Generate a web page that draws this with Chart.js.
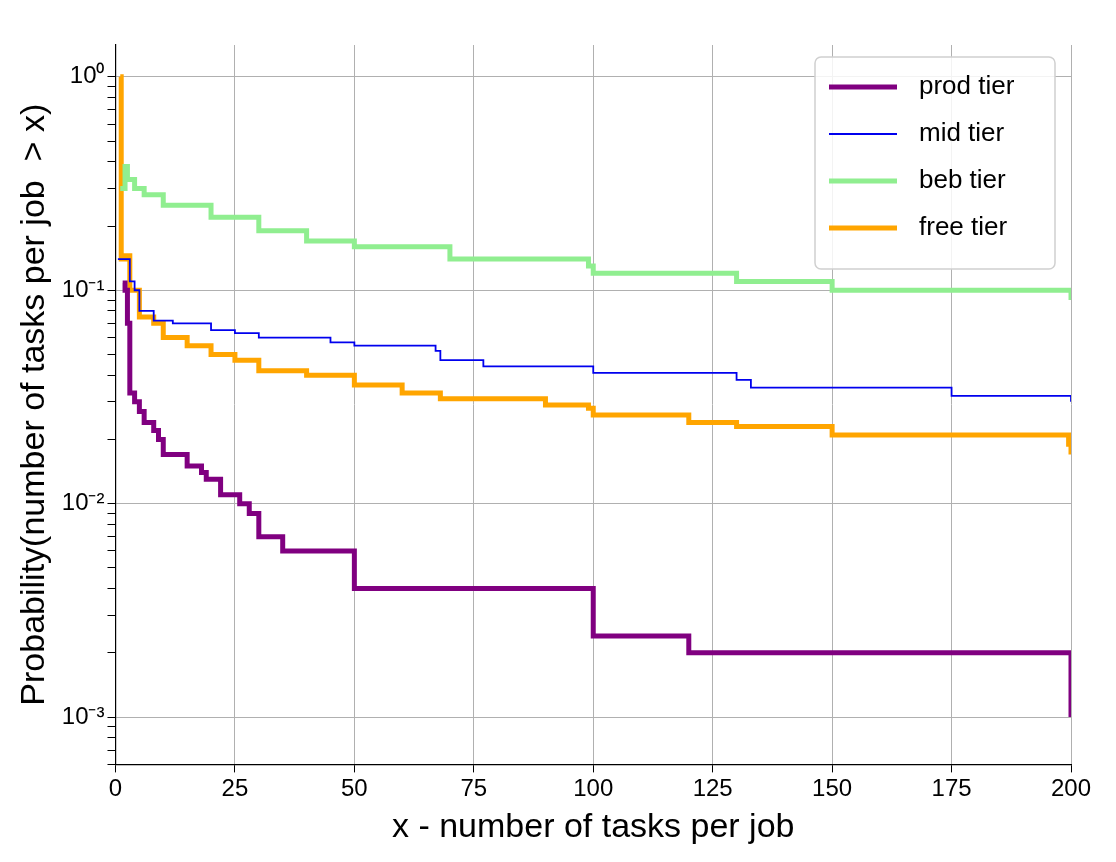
<!DOCTYPE html>
<html>
<head>
<meta charset="utf-8">
<script src="https://cdn.jsdelivr.net/npm/chart.js@4"></script>
<style>
  body { margin: 0; background: #fff; }
</style>
</head>
<body>
<canvas id="grafico" width="1116" height="862"></canvas>
<script>
const seriesNames = ['prod tier', 'mid tier', 'beb tier', 'free tier'];
const seriesColors = ['#800080', '#0000ee', '#90ee90', '#ffa500'];
const seriesWidths = [5, 1.8, 5, 5];

const prodX = [1.5, 2, 2.5, 3, 4, 5, 6, 8, 9, 10, 15, 18, 19, 22, 26, 28, 30, 35, 50, 100, 120, 200];
const prodY = [0.108, 0.1, 0.07, 0.033, 0.03, 0.027, 0.024, 0.022, 0.02, 0.017, 0.015, 0.014, 0.013, 0.011, 0.01, 0.009, 0.007, 0.006, 0.004, 0.0024, 0.002, 0.001];

const midX = [0.5, 3, 4, 5, 8, 12, 20, 25, 30, 45, 50, 67, 68, 77, 100, 130, 133, 175, 200];
const midY = [0.14, 0.11, 0.1, 0.08, 0.072, 0.07, 0.065, 0.063, 0.06, 0.057, 0.055, 0.052, 0.047, 0.044, 0.041, 0.038, 0.035, 0.032, 0.03];

const bebX = [1, 2, 2.5, 4, 6, 10, 20, 30, 40, 50, 70, 99, 100, 130, 150, 200];
const bebY = [0.3, 0.38, 0.33, 0.3, 0.28, 0.25, 0.22, 0.19, 0.17, 0.16, 0.14, 0.13, 0.12, 0.11, 0.1, 0.09];

const freeX = [1, 1.2, 2, 3, 5, 8, 10, 15, 20, 25, 30, 40, 50, 60, 68, 90, 99, 100, 120, 130, 150, 199.5, 200];
const freeY = [1.0, 0.14, 0.145, 0.1, 0.075, 0.07, 0.06, 0.055, 0.05, 0.047, 0.042, 0.04, 0.036, 0.033, 0.031, 0.029, 0.028, 0.026, 0.024, 0.023, 0.021, 0.019, 0.017];

const allX = [prodX, midX, bebX, freeX];
const allY = [prodY, midY, bebY, freeY];

const supers = { '0': '⁰', '1': '¹', '2': '²', '3': '³', '-': '⁻' };
function potencia(v) {
    const e = Math.round(Math.log10(v));
    if (Math.abs(Math.log10(v) - e) > 1e-6) return '';
    return '10' + String(e).split('').map(c => supers[c]).join('');
}
function ehMajor(v) {
    const l = Math.log10(v);
    return Math.abs(l - Math.round(l)) < 1e-6;
}

// legenda desenhada dentro da área do gráfico, com moldura
const legendaInterna = {
    id: 'legendaInterna',
    afterDraw(chart) {
        const ctx = chart.ctx;
        const a = chart.chartArea;
        const w = 240, h = 212, x0 = a.right - w - 16, y0 = a.top + 12;
        ctx.save();
        ctx.fillStyle = 'rgba(255,255,255,0.85)';
        ctx.strokeStyle = '#d0d0d0';
        ctx.lineWidth = 1.5;
        ctx.beginPath();
        ctx.roundRect(x0, y0, w, h, 6);
        ctx.fill();
        ctx.stroke();
        ctx.font = '26px "Liberation Sans", Arial, sans-serif';
        ctx.textBaseline = 'middle';
        chart.data.datasets.forEach((ds, i) => {
            const y = y0 + 30 + i * 47;
            ctx.strokeStyle = ds.borderColor;
            ctx.lineWidth = ds.borderWidth;
            ctx.beginPath();
            ctx.moveTo(x0 + 14, y);
            ctx.lineTo(x0 + 82, y);
            ctx.stroke();
            ctx.fillStyle = '#000';
            ctx.fillText(ds.label, x0 + 104, y);
        });
        ctx.restore();
    }
};

const ctx = document.getElementById('grafico').getContext('2d');
new Chart(ctx, {
    type: 'line',
    data: {
        datasets: seriesNames.map((nome, i) => ({
            label: nome,
            data: allX[i].map((x, j) => ({ x: x, y: allY[i][j] })),
            borderColor: seriesColors[i],
            backgroundColor: seriesColors[i],
            borderWidth: seriesWidths[i],
            stepped: 'before',
            pointRadius: 0,
            fill: false
        }))
    },
    options: {
        responsive: false,
        animation: false,
        layout: { padding: { left: 10, right: 45, top: 45, bottom: 10 } },
        plugins: { legend: { display: false }, tooltip: { enabled: false } },
        scales: {
            x: {
                type: 'linear',
                min: 0,
                max: 200,
                ticks: { stepSize: 25, color: '#000', font: { size: 24, family: 'Liberation Sans' } },
                grid: { color: '#b0b0b0', tickColor: '#000', tickLength: 8 },
                border: { color: '#000', width: 1.2 },
                title: {
                    display: true,
                    text: 'x - number of tasks per job',
                    color: '#000',
                    font: { size: 34, family: 'Liberation Sans' },
                    padding: { top: 0 }
                }
            },
            y: {
                type: 'logarithmic',
                min: 0.00063,
                max: 1.41,
                afterBuildTicks(scale) {
                    const t = [];
                    for (let e = -4; e <= 0; e++) {
                        for (let m = 1; m <= 9; m++) {
                            const v = m * Math.pow(10, e);
                            if (v >= scale.min && v <= scale.max) t.push({ value: v, major: m === 1 });
                        }
                    }
                    scale.ticks = t;
                },
                ticks: {
                    autoSkip: false,
                    color: '#000',
                    font: { size: 24, family: 'Liberation Sans' },
                    callback: v => potencia(v)
                },
                grid: {
                    color: c => ehMajor(c.tick.value) ? '#b0b0b0' : 'rgba(0,0,0,0)',
                    tickColor: c => '#000',
                    tickLength: 8
                },
                border: { color: '#000', width: 1.2 },
                title: {
                    display: true,
                    text: 'Probability(number of tasks per job  > x)',
                    color: '#000',
                    font: { size: 34, family: 'Liberation Sans' }
                }
            }
        }
    },
    plugins: [legendaInterna]
});
</script>
</body>
</html>
